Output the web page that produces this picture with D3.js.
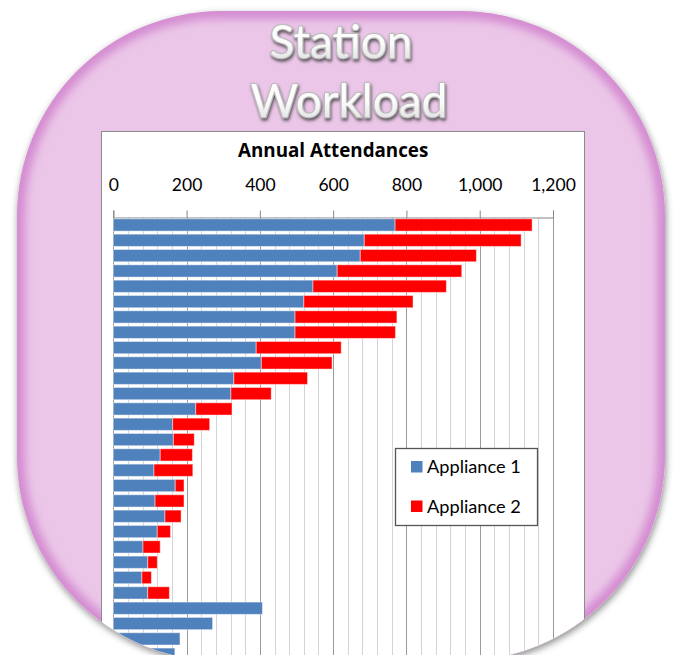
<!DOCTYPE html>
<html><head><meta charset="utf-8">
<script src="https://cdn.jsdelivr.net/npm/d3@7/dist/d3.min.js"></script>
<style>html,body{margin:0;padding:0;background:#fff;}svg{display:block;}</style>
</head><body>
<svg id="c" width="678" height="655"></svg>
<script>
// ---- data ----
const categories = d3.range(1, 30).map(i => "Station " + i);
const appliance1 = [769,685,674,611,545,520,496,496,390,404,329,321,225,162,164,128,111,169,114,141,120,81,94,78,94,407,271,182,168];
const appliance2 = [374,428,317,340,364,298,278,274,232,193,201,110,99,101,57,88,106,24,79,44,36,47,26,26,59,0,0,0,0];
const seriesNames = ["Appliance 1", "Appliance 2"];
const seriesColors = ["#4F81BD", "#FF0000"];
const tickValues = [0,200,400,600,800,1000,1200];
const titleLines = ["Station", "Workload"];
const chartTitle = "Annual Attendances";

const svg = d3.select("#c");
const defs = svg.append("defs");
const FONT = "Lato, 'Open Sans', sans-serif";

// shape
const shape = {x:17, y:11, w:648, h:650, r:205};
defs.append("clipPath").attr("id","shapeClip").append("rect")
  .attr("x",shape.x).attr("y",shape.y).attr("width",shape.w).attr("height",shape.h)
  .attr("rx",shape.r).attr("ry",shape.r);

const sh = defs.append("filter").attr("id","shadow").attr("x","-10%").attr("y","-10%").attr("width","120%").attr("height","120%");
sh.append("feDropShadow").attr("dx",1).attr("dy",3).attr("stdDeviation",3.5)
  .attr("flood-color","#000").attr("flood-opacity",0.45);

const glow = defs.append("filter").attr("id","glow").attr("x","-10%").attr("y","-10%").attr("width","120%").attr("height","120%");
glow.append("feGaussianBlur").attr("stdDeviation",4);

const tsh = defs.append("filter").attr("id","tshadow").attr("x","-20%").attr("y","-20%").attr("width","140%").attr("height","150%");
tsh.append("feDropShadow").attr("dx",1).attr("dy",2.5).attr("stdDeviation",1.6)
  .attr("flood-color","#444").attr("flood-opacity",0.85);

const tg = defs.append("linearGradient").attr("id","tgrad").attr("x1",0).attr("y1",0).attr("x2",0).attr("y2",1);
tg.append("stop").attr("offset","0%").attr("stop-color","#ffffff");
tg.append("stop").attr("offset","55%").attr("stop-color","#fbfbfb");
tg.append("stop").attr("offset","100%").attr("stop-color","#d8d8d8");

// background shape
svg.append("rect").attr("x",shape.x).attr("y",shape.y).attr("width",shape.w).attr("height",shape.h)
  .attr("rx",shape.r).attr("ry",shape.r).attr("fill","#EBC6E8").attr("filter","url(#shadow)");
// inner glow
svg.append("g").attr("clip-path","url(#shapeClip)")
  .append("rect").attr("x",shape.x).attr("y",shape.y).attr("width",shape.w).attr("height",shape.h)
  .attr("rx",shape.r).attr("ry",shape.r).attr("fill","none").attr("stroke","#D48CD1")
  .attr("stroke-width",16).attr("filter","url(#glow)");

// title
const titleY = [58, 117];
const titleX = [341, 349];
titleLines.forEach((t,i) => {
  svg.append("text").attr("x",titleX[i]).attr("y",titleY[i]).attr("text-anchor","middle")
    .attr("font-family",FONT).attr("font-size",46).attr("fill","url(#tgrad)")
    .attr("stroke","#bdbdbd").attr("stroke-width",2.4).attr("paint-order","stroke")
    .attr("stroke-linejoin","round")
    .attr("filter","url(#tshadow)").text(t);
});

// chart group clipped by shape
const g = svg.append("g").attr("clip-path","url(#shapeClip)");
g.append("rect").attr("x",101.5).attr("y",131.5).attr("width",483).attr("height",600)
  .attr("fill","#fff").attr("stroke","#8c8c8c").attr("stroke-width",1);

const x = d3.scaleLinear().domain([0,1200]).range([113.3, 553]);
const y = d3.scaleBand().domain(categories).range([217.3, 217.3 + categories.length*15.33])
  .paddingInner(0.2).paddingOuter(0.1);
const yBottom = 217.3 + categories.length*15.33;

// gridlines
const minor = d3.range(0, 1201, 40);
g.append("g").selectAll("line").data(minor).join("line")
  .attr("x1",d=>Math.round(x(d))+0.5).attr("x2",d=>Math.round(x(d))+0.5)
  .attr("y1",217.3).attr("y2",yBottom)
  .attr("stroke",d=> d%200===0 ? "#9a9a9a" : "#d4d4d4").attr("stroke-width",1);

// axis
const axis = d3.axisTop(x).tickValues(tickValues).tickSize(7).tickPadding(20).tickFormat(d3.format(","));
const ax = g.append("g").attr("transform","translate(0,217.5)").call(axis);
ax.select(".domain").attr("stroke","#868686");
ax.selectAll(".tick line").attr("stroke","#868686");
ax.selectAll(".tick text").attr("font-family",FONT).attr("font-size",17.5).attr("fill","#000");

// chart title
g.append("text").attr("x",(x(0)+x(1200))/2).attr("y",157).attr("text-anchor","middle")
  .attr("font-family","'Open Sans', Lato, sans-serif").attr("font-weight","bold").attr("font-size",18.8)
  .attr("fill","#000").text(chartTitle);

// stacked bars
const rows = categories.map((c,i) => ({cat:c, a1:appliance1[i], a2:appliance2[i]}));
const stack = d3.stack().keys(["a1","a2"])(rows);
g.append("g").selectAll("g").data(stack).join("g")
  .attr("fill",(d,i)=>seriesColors[i])
  .selectAll("rect").data(d=>d.filter(v=>v[1]>v[0])).join("rect")
  .attr("x",d=>x(d[0])).attr("width",d=>x(d[1])-x(d[0]))
  .attr("y",d=>y(d.data.cat)).attr("height",y.bandwidth())
  .attr("stroke","#ffffff").attr("stroke-opacity",0.45).attr("stroke-width",1);

// legend
const lg = g.append("g");
lg.append("rect").attr("x",395.5).attr("y",448.5).attr("width",142).attr("height",77)
  .attr("fill","#fff").attr("stroke","#555").attr("stroke-width",1.3);
seriesNames.forEach((s,i) => {
  const yy = 461 + i*39.5;
  lg.append("rect").attr("x",411).attr("y",yy).attr("width",11.5).attr("height",11.5).attr("fill",seriesColors[i]);
  lg.append("text").attr("x",427).attr("y",yy+12.3).attr("font-family",FONT).attr("font-size",18.2)
    .attr("fill","#000").text(s);
});
</script>
</body></html>
